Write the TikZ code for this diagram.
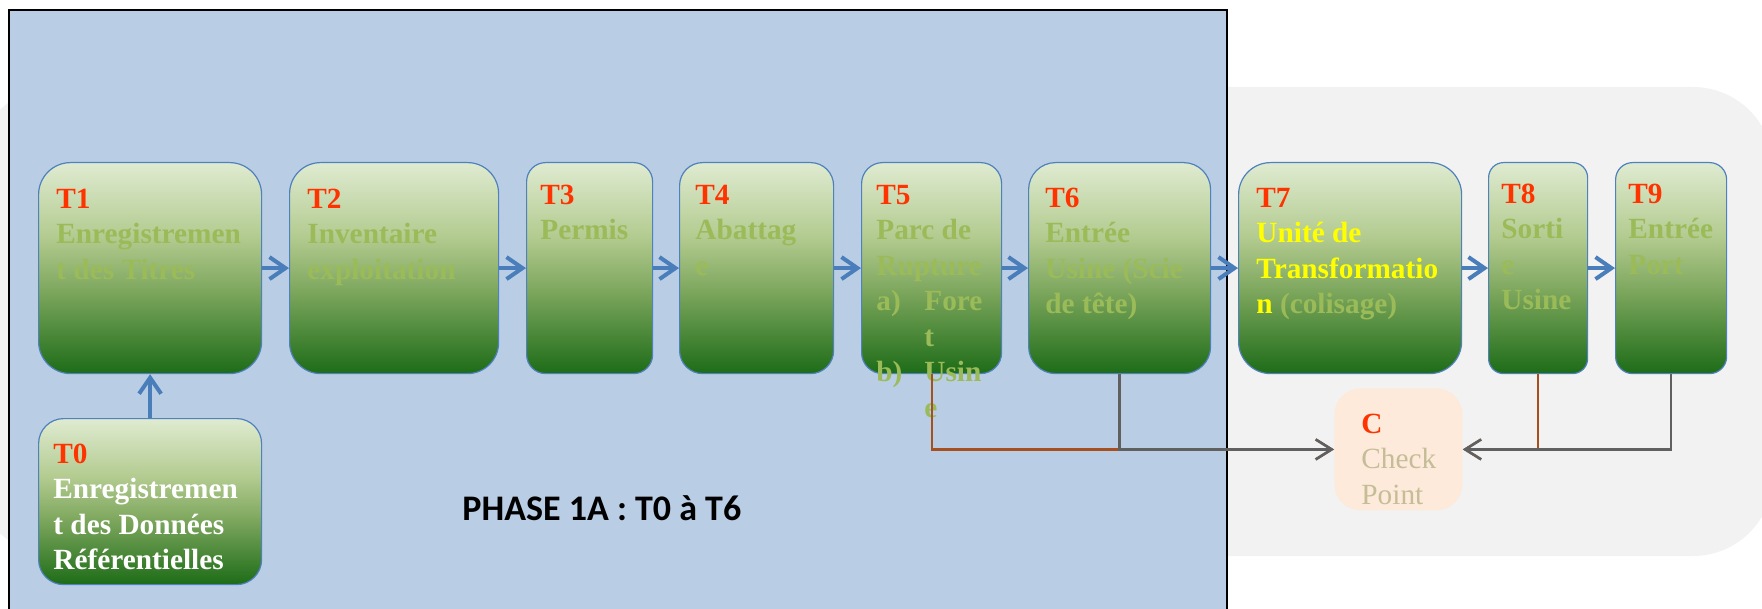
\documentclass[tikz,border=0pt]{standalone}
\usepackage{fontspec}
\setmainfont{Liberation Serif}
\newfontfamily\calib{Carlito}
\usetikzlibrary{arrows.meta,calc}

\definecolor{panelblue}{HTML}{B9CDE5}
\definecolor{panelgray}{HTML}{F2F2F2}
\definecolor{gL}{HTML}{DFEBD1}
\definecolor{gMa}{HTML}{B3CB90}
\definecolor{gMb}{HTML}{7FA85F}
\definecolor{gD}{HTML}{1D6C17}
\definecolor{boxborder}{HTML}{4F81BD}
\definecolor{arrblue}{HTML}{4A7EBB}
\definecolor{tred}{HTML}{FF3300}
\definecolor{tgreen}{HTML}{9BBB59}
\definecolor{tyellow}{HTML}{FFFF00}
\definecolor{peach}{HTML}{FDEADA}
\definecolor{tanc}{HTML}{C4BD97}
\definecolor{cgray}{HTML}{606060}
\definecolor{corange}{HTML}{A5501E}

\pgfdeclareverticalshading{greenbox}{100bp}{color(0bp)=(gD); color(25bp)=(gD); color(45bp)=(gMb); color(57.5bp)=(gMa); color(75bp)=(gL); color(100bp)=(gL)}

\tikzset{
  gbox/.style={draw=boxborder, line width=0.6pt, shading=greenbox, inner sep=0, anchor=north west},
  cbox/.style={fill=peach, inner sep=0, anchor=north west, rounded corners=13pt},
  btxt/.style={anchor=north west, inner sep=0, align=left,
    font=\fontsize{14.65pt}{17.75pt}\selectfont\bfseries, text=tgreen},
  barrow/.style={draw=arrblue, line width=2pt, -{Straight Barb[length=8pt,width=11pt]}},
  garrow/.style={draw=cgray, line width=1.3pt, -{Straight Barb[length=8pt,width=10pt]}},
  oarrow/.style={draw=corange, line width=1.1pt, -{Straight Barb[length=8pt,width=10pt]}},
}

\begin{document}
\begin{tikzpicture}[x=0.5pt, y=-0.5pt]
\clip (0,0) rectangle (1762,609);

% background panels
\fill[panelgray, rounded corners=40pt] (-24,87) rectangle (1773,556);
\draw[fill=panelblue, draw=black, line width=1pt] (9,10) rectangle (1227,630);

% green boxes
\node[gbox, minimum width=111.5pt, minimum height=105.5pt, rounded corners=16pt] (t1) at (38,162) {};
\node[gbox, minimum width=104.5pt, minimum height=105.5pt, rounded corners=15.5pt] (t2) at (289,162) {};
\node[gbox, minimum width=63pt, minimum height=105.5pt, rounded corners=9.5pt] (t3) at (526,162) {};
\node[gbox, minimum width=77pt, minimum height=105.5pt, rounded corners=11.5pt] (t4) at (679,162) {};
\node[gbox, minimum width=70pt, minimum height=105.5pt, rounded corners=10.5pt] (t5) at (861,162) {};
\node[gbox, minimum width=91pt, minimum height=105.5pt, rounded corners=13.5pt] (t6) at (1028,162) {};
\node[gbox, minimum width=111.5pt, minimum height=105.5pt, rounded corners=16pt] (t7) at (1238,162) {};
\node[gbox, minimum width=49.5pt, minimum height=105.5pt, rounded corners=7.5pt] (t8) at (1488,162) {};
\node[gbox, minimum width=55.5pt, minimum height=105.5pt, rounded corners=8.5pt] (t9) at (1615,162) {};
\node[gbox, minimum width=111.5pt, minimum height=83pt, rounded corners=12.5pt] (t0) at (38,418) {};
\node[cbox, minimum width=64pt, minimum height=61pt] (c) at (1334,388) {};

% texts
\node[btxt] (t1t) at (56,184) {\rule{0pt}{12pt}{\color{tred}T1}\\Enregistremen\\t des Titres};
\node[btxt] (t2t) at (307,184) {\rule{0pt}{12pt}{\color{tred}T2}\\Inventaire\\exploitation};
\node[btxt] (t3t) at (540,180) {\rule{0pt}{12pt}{\color{tred}T3}\\Permis};
\node[btxt] (t4t) at (695,180) {\rule{0pt}{12pt}{\color{tred}T4}\\Abattag\\e};
\node[btxt] (t5t) at (876,180) {\rule{0pt}{12pt}{\color{tred}T5}\\Parc de\\Rupture\\\makebox[24pt][l]{a)}Fore\\\hspace*{24pt}t\\\makebox[24pt][l]{b)}Usin\\\hspace*{24pt}e};
\node[btxt] (t6t) at (1045,183) {\rule{0pt}{12pt}{\color{tred}T6}\\Entrée\\Usine (Scie\\de tête)};
\node[btxt] (t7t) at (1256,183) {\rule{0pt}{12pt}{\color{tred}T7}\\{\color{tyellow}Unité de}\\{\color{tyellow}Transformatio}\\{\color{tyellow}n} (colisage)};
\node[btxt] (t8t) at (1501,179) {\rule{0pt}{12pt}{\color{tred}T8}\\Sorti\\e\\Usine};
\node[btxt] (t9t) at (1628,179) {\rule{0pt}{12pt}{\color{tred}T9}\\Entrée\\Port};
\node[btxt, text=white] (t0t) at (53,439) {\rule{0pt}{12pt}{\color{tred}T0}\\Enregistremen\\t des Données\\Référentielles};
\node[btxt, text=tanc, font=\fontsize{14.65pt}{17.75pt}\selectfont] (ct) at (1361,409) {\rule{0pt}{12pt}{\color{tred}\bfseries C}\\Check\\Point};

% blue flow arrows
\draw[barrow] (t1.east) -- (t2.west);
\draw[barrow] (t2.east) -- (t3.west);
\draw[barrow] (t3.east) -- (t4.west);
\draw[barrow] (t4.east) -- (t5.west);
\draw[barrow] (t5.east) -- (t6.west);
\draw[barrow] (t6.east) -- (t7.west);
\draw[barrow] (t7.east) -- (t8.west);
\draw[barrow] (t8.east) -- (t9.west);
\draw[barrow] (t0.north) -- (t1.south);

% check point connectors
\draw[oarrow] (t5.south) |- (c.west);
\draw[garrow] (t6.south) |- (c.west);
\draw[oarrow] (t8.south) |- (c.east);
\draw[garrow] (t9.south) |- (c.east);

% phase label
\node[anchor=base west, inner sep=0, font=\calib\bfseries\fontsize{18pt}{21pt}\selectfont] (phase) at (462,520) {PHASE 1A : T0 à T6};
\end{tikzpicture}
\end{document}
